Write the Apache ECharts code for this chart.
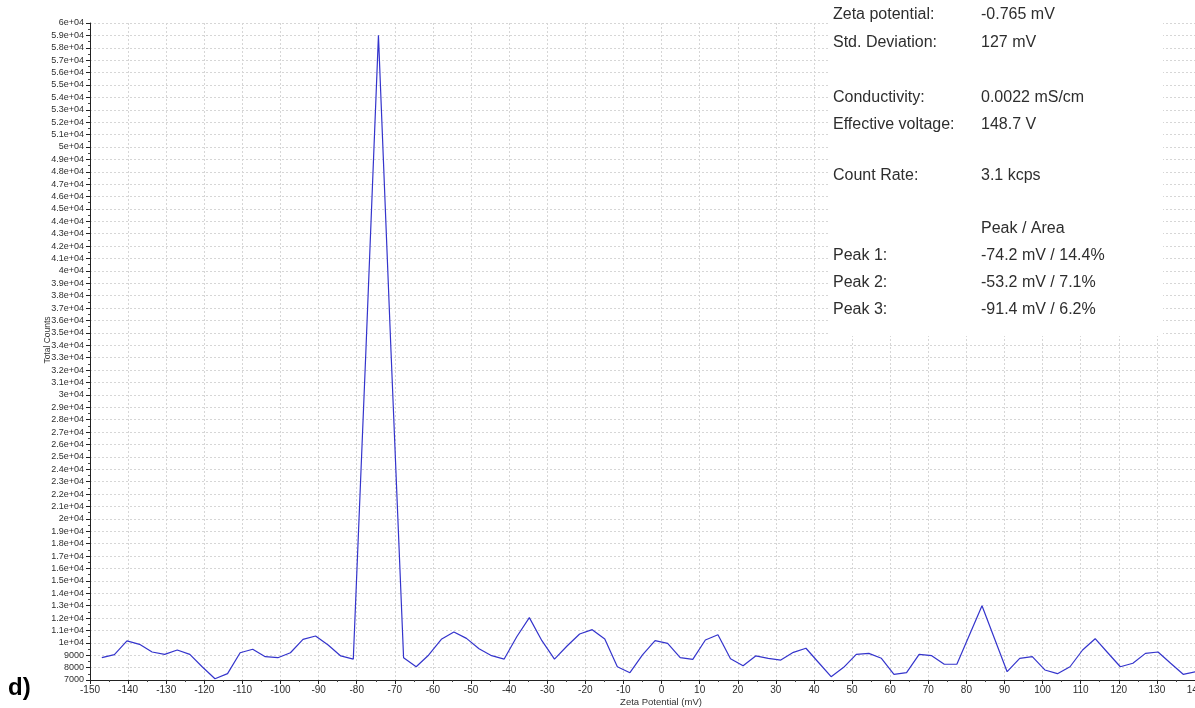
<!DOCTYPE html>
<html>
<head>
<meta charset="utf-8">
<title>Zeta Potential</title>
<script src="https://cdn.jsdelivr.net/npm/echarts@6/dist/echarts.min.js"></script>
<style>
  html, body { margin: 0; padding: 0; background: #fff; }
  #zeta { width: 1195px; height: 708px; }
</style>
</head>
<body>
<div id="zeta"></div>
<script>
// zeta potential (mV) of each measured point
const zetaMv = [-146.9, -143.6, -140.3, -137.0, -133.7, -130.4, -127.1, -123.8, -120.5, -117.2,
  -113.9, -110.6, -107.3, -104.0, -100.7, -97.4, -94.1, -90.8, -87.5, -84.2,
  -80.9, -77.6, -74.3, -71.0, -67.7, -64.4, -61.1, -57.8, -54.5, -51.2,
  -47.9, -44.6, -41.3, -38.0, -34.7, -31.4, -28.1, -24.8, -21.5, -18.2,
  -14.9, -11.6, -8.3, -5.0, -1.7, 1.6, 4.9, 8.2, 11.5, 14.8,
  18.1, 21.4, 24.7, 28.0, 31.3, 34.6, 37.9, 41.2, 44.5, 47.8,
  51.1, 54.4, 57.7, 61.0, 64.3, 67.6, 70.9, 74.2, 77.5, 80.8,
  84.1, 87.4, 90.7, 94.0, 97.3, 100.6, 103.9, 107.2, 110.5, 113.8,
  117.1, 120.4, 123.7, 127.0, 130.3, 133.6, 136.9, 140.2]

// total counts at each point
const totalCounts = [8800, 9050, 10150, 9880, 9260, 9070, 9420, 9070, 8050, 7100,
  7510, 9200, 9480, 8880, 8800, 9200, 10280, 10550, 9820, 8940,
  8690, 33500, 59000, 33500, 8800, 8070, 9020, 10280, 10870, 10360,
  9520, 8960, 8690, 10490, 12030, 10170, 8690, 9740, 10710, 11060,
  10310, 8070, 7590, 9020, 10170, 9960, 8800, 8670, 10230, 10650,
  8720, 8150, 8940, 8750, 8610, 9230, 9560, 8410, 7270, 8020,
  9070, 9150, 8750, 7460, 7590, 9070, 8960, 8270, 8270, 10630,
  12990, 10330, 7670, 8750, 8880, 7810, 7510, 8070, 9420, 10330,
  9200, 8070, 8350, 9150, 9260, 8350, 7460, 7670]

// result box text
const infoLabels = ['Zeta potential:', 'Std. Deviation:', 'Conductivity:', 'Effective voltage:', 'Count Rate:', '', 'Peak 1:', 'Peak 2:', 'Peak 3:']
const infoValues = ['-0.765 mV', '127 mV', '0.0022 mS/cm', '148.7 V', '3.1 kcps', 'Peak / Area', '-74.2 mV / 14.4%', '-53.2 mV / 7.1%', '-91.4 mV / 6.2%']
const infoRowY = [15, 43, 98, 125, 176, 229, 256, 283, 310]

let myChart = echarts.init(document.getElementById('zeta'))

// y labels: 7000 ... 9000, then 1e+04, 1.1e+04 ...
function countLabel(v) {
  if (v < 10000) return String(v)
  return parseFloat((v / 10000).toFixed(2)) + 'e+04'
}

let infoFont = '16px "Liberation Sans", Arial, sans-serif'
let infoTexts = []
infoLabels.forEach((t, i) => {
  if (t) {
    infoTexts.push({
      type: 'text', x: 833, y: infoRowY[i], z: 101,
      style: { text: t, font: infoFont, fill: '#2e2e2e', textVerticalAlign: 'middle' }
    })
  }
  infoTexts.push({
    type: 'text', x: 981, y: infoRowY[i], z: 101,
    style: { text: infoValues[i], font: infoFont, fill: '#2e2e2e', textVerticalAlign: 'middle' }
  })
})

let option = {
  animation: false,
  grid: { left: 90, right: 0, top: 23, bottom: 28, outerBoundsMode: 'none', containLabel: false },
  xAxis: {
    type: 'value',
    min: -150,
    max: 140,
    interval: 10,
    axisLine: { onZero: false, lineStyle: { color: '#222', width: 1 } },
    axisTick: { length: 4, lineStyle: { color: '#222' } },
    minorTick: { show: true, splitNumber: 2, length: 2, lineStyle: { color: '#444' } },
    axisLabel: { color: '#2e2e2e', fontSize: 10, fontFamily: '"Liberation Sans", Arial, sans-serif', margin: 5, showMaxLabel: true },
    splitLine: { show: true, lineStyle: { color: '#d6d6d6', type: [2, 2], width: 1 } }
  },
  yAxis: {
    type: 'value',
    min: 7000,
    max: 60000,
    interval: 1000,
    axisLine: { show: true, onZero: false, lineStyle: { color: '#222', width: 1 } },
    axisTick: { show: true, length: 4, lineStyle: { color: '#222' } },
    minorTick: { show: true, splitNumber: 2, length: 2, lineStyle: { color: '#444' } },
    axisLabel: { color: '#2e2e2e', fontSize: 9, fontFamily: '"Liberation Sans", Arial, sans-serif', margin: 6, formatter: countLabel },
    splitLine: { show: true, lineStyle: { color: '#d6d6d6', type: [2, 2], width: 1 } }
  },
  series: [
    {
      type: 'line',
      data: zetaMv.map((x, i) => [x, totalCounts[i]]),
      showSymbol: false,
      lineStyle: { color: '#3434cc', width: 1.2 },
      clip: true
    }
  ],
  graphic: [
    // white result box over the grid
    { type: 'rect', shape: { x: 828, y: 0, width: 335, height: 336 }, style: { fill: '#fff' }, z: 100 },
    ...infoTexts,
    {
      type: 'text', x: 48, y: 340, rotation: Math.PI / 2, z: 101,
      style: { text: 'Total Counts', font: '8.5px "Liberation Sans", Arial, sans-serif', fill: '#333', textAlign: 'center', textVerticalAlign: 'middle' }
    },
    {
      type: 'text', x: 661, y: 702, z: 101,
      style: { text: 'Zeta Potential (mV)', font: '9.5px "Liberation Sans", Arial, sans-serif', fill: '#333', textAlign: 'center', textVerticalAlign: 'middle' }
    },
    {
      type: 'text', x: 8, y: 688, z: 101,
      style: { text: 'd)', font: 'bold 24px "Liberation Sans", Arial, sans-serif', fill: '#000', textVerticalAlign: 'middle' }
    }
  ]
}
myChart.setOption(option)
</script>
</body>
</html>
